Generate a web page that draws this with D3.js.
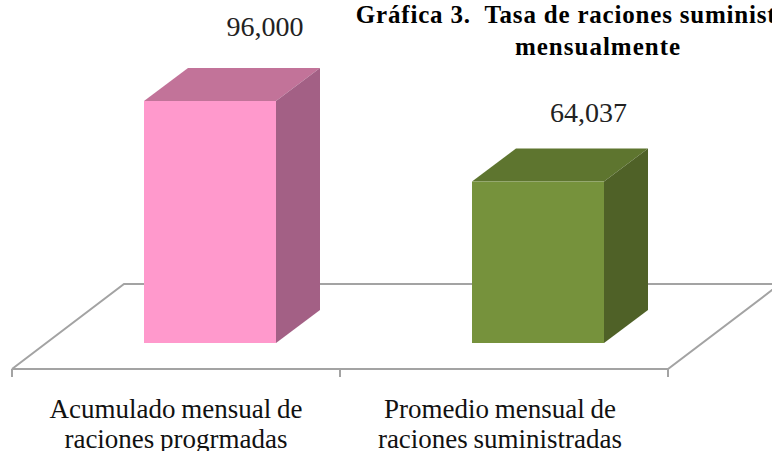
<!DOCTYPE html>
<html><head><meta charset="utf-8">
<script src="https://cdn.jsdelivr.net/npm/d3@7"></script>
<style>html,body{margin:0;padding:0;background:#fff;overflow:hidden}svg{display:block}text{font-family:"Liberation Serif",serif}</style>
</head><body><svg id="c" width="772" height="451"></svg>
<script>
const categories = ["Acumulado mensual de|raciones progrmadas", "Promedio mensual de|raciones suministradas"];
const values = [96000, 64037];
const valueLabels = ["96,000", "64,037"];
const frontColors = ["#FF99CC", "#76923C"];
const topColors = ["#C27399", "#5E752F"];
const sideColors = ["#A36085", "#4F6127"];
const titleLines = ["Gráfica 3.  Tasa de raciones suministradas", "mensualmente"];

const svg = d3.select("#c");
const floorFrontY = 369, floorDx = 112, floorDy = 85, barDx = 44, barDy = 33;
const x = d3.scaleBand().domain(categories).range([12, 668]);
const barW = 132;
const offX = (floorDx - barDx) / 2, offY = (floorDy - barDy) / 2;
const base = floorFrontY - offY;
const y = d3.scaleLinear().domain([0, 96000]).range([base, 101]);
const gray = "#A3A3A3";
const [fx0, fx1] = x.range();
const labelShift = [[55, -65], [50.5, -60]];

// floor
const line = d3.line();
svg.append("path").attr("fill", "none").attr("stroke", gray).attr("stroke-width", 2)
  .attr("d", line([[fx0, floorFrontY], [fx0 + floorDx, floorFrontY - floorDy], [fx1 + floorDx, floorFrontY - floorDy], [fx1, floorFrontY], [fx0, floorFrontY]]));

// ticks
const ticks = [...categories.map(c => x(c)), fx1];
svg.selectAll(".t").data(ticks).join("line").attr("class", "t")
  .attr("x1", d => d).attr("x2", d => d).attr("y1", floorFrontY).attr("y2", floorFrontY + 8)
  .attr("stroke", gray).attr("stroke-width", 2);

// bars
const g = svg.selectAll(".b").data(categories).join("g").attr("class", "b");
g.each(function (c, i) {
  const s = d3.select(this);
  const l = x(c) + x.bandwidth() / 2 + offX - barW / 2, r = l + barW, t = y(values[i]);
  s.append("path").attr("fill", topColors[i]).attr("d", line([[l, t], [l + barDx, t - barDy], [r + barDx, t - barDy], [r, t]]) + "Z");
  s.append("path").attr("fill", sideColors[i]).attr("d", line([[r, t], [r + barDx, t - barDy], [r + barDx, base - barDy], [r, base]]) + "Z");
  s.append("rect").attr("x", l).attr("y", t).attr("width", barW).attr("height", base - t).attr("fill", frontColors[i]);
  s.append("text").attr("x", l + barW / 2 + labelShift[i][0]).attr("y", t + labelShift[i][1]).attr("text-anchor", "middle")
    .attr("font-size", 28).attr("fill", "#222").text(valueLabels[i]);
});

// category labels
categories.forEach((c, i) => {
  c.split("|").forEach((ln, j) => {
    svg.append("text").attr("x", x(c) + x.bandwidth() / 2 - i * 4).attr("y", 418 + j * 30).attr("text-anchor", "middle")
      .attr("font-size", 27).attr("word-spacing", -1).attr("fill", "#111").text(ln);
  });
});

// title
titleLines.forEach((ln, j) => {
  svg.append("text").attr("x", 598).attr("y", 23 + j * 32).attr("text-anchor", "middle")
    .attr("font-size", 25).attr("letter-spacing", j ? 1 : 0.8).attr("font-weight", "bold").attr("fill", "#000")
    .attr("xml:space", "preserve").style("white-space", "pre").text(ln);
});
</script></body></html>
